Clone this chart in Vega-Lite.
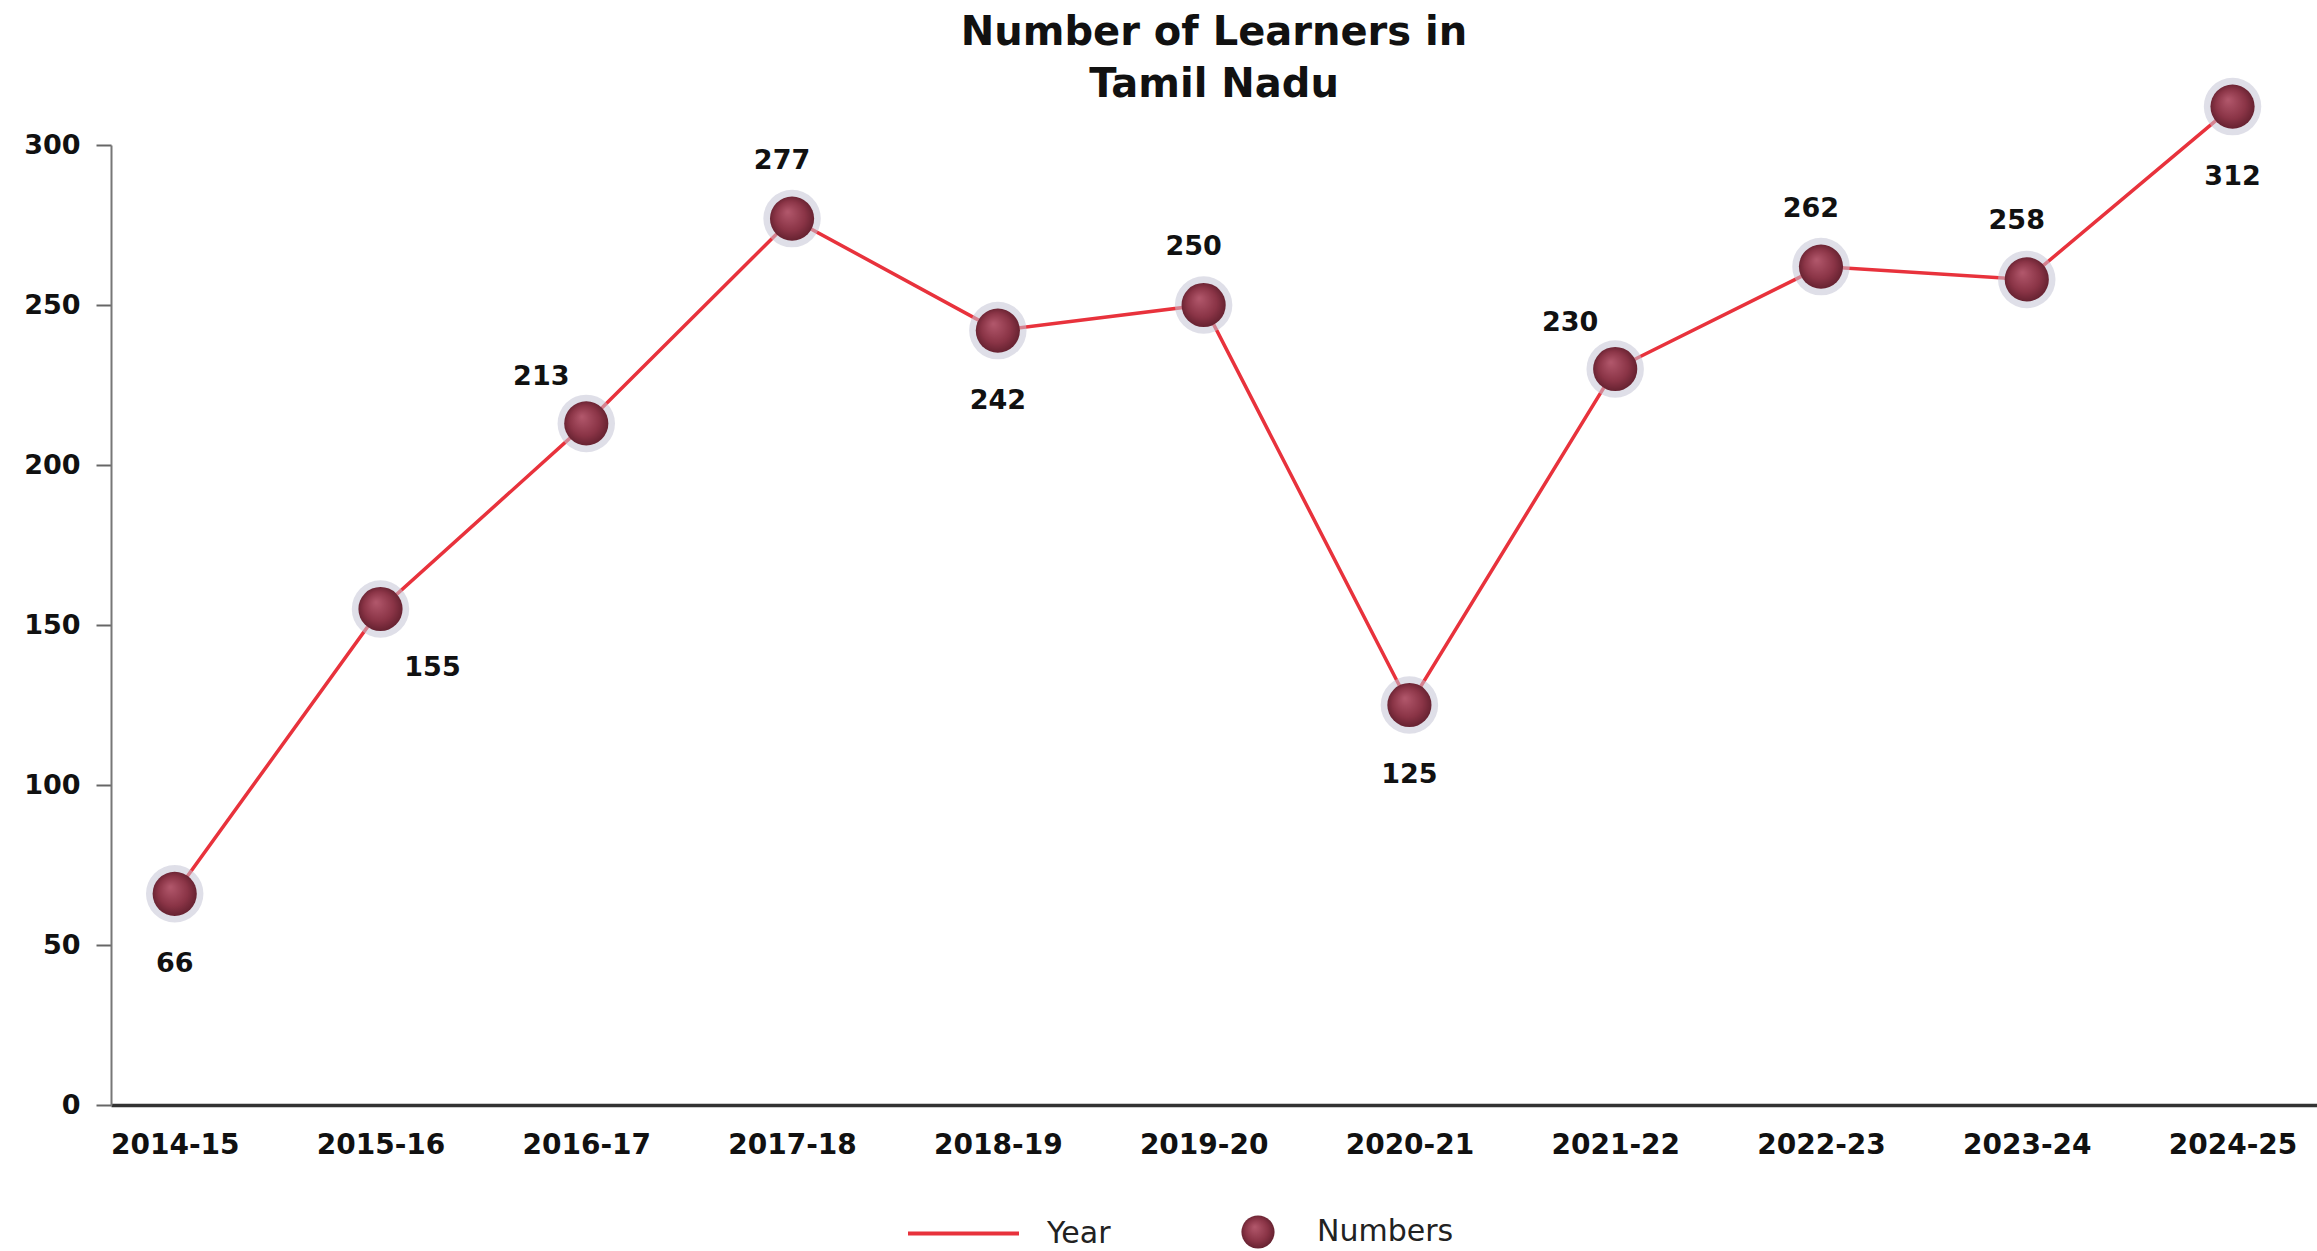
{
  "$schema": "https://vega.github.io/schema/vega-lite/v6.json",
  "width": 2206,
  "height": 960,
  "autosize": {"type": "none"},
  "padding": {"left": 111, "top": 145, "right": 0, "bottom": 146},
  "background": "white",
  "config": {"view": {"stroke": null}, "font": "DejaVu Sans"},
  "title": {
    "text": ["Number of Learners in", "Tamil Nadu"],
    "font": "DejaVu Sans",
    "fontSize": 40,
    "fontWeight": "bold",
    "color": "#111111",
    "lineHeight": 52,
    "anchor": "middle",
    "frame": "group",
    "offset": -27
  },
  "data": {
    "values": [
      {"year": "2014-15", "learners": 66},
      {"year": "2015-16", "learners": 155},
      {"year": "2016-17", "learners": 213},
      {"year": "2017-18", "learners": 277},
      {"year": "2018-19", "learners": 242},
      {"year": "2019-20", "learners": 250},
      {"year": "2020-21", "learners": 125},
      {"year": "2021-22", "learners": 230},
      {"year": "2022-23", "learners": 262},
      {"year": "2023-24", "learners": 258},
      {"year": "2024-25", "learners": 312}
    ]
  },
  "encoding": {
    "x": {
      "field": "year",
      "type": "ordinal",
      "sort": null,
      "scale": {"type": "point", "padding": 0.36, "align": 0.43},
      "axis": {
        "title": null,
        "labelAngle": 0,
        "labelFont": "DejaVu Sans",
        "labelFontWeight": "bold",
        "labelFontSize": 28,
        "labelColor": "#111111",
        "labelPadding": 26,
        "ticks": false,
        "tickSize": 0,
        "domainColor": "#333333",
        "domainWidth": 3.5,
        "grid": false
      }
    },
    "y": {
      "field": "learners",
      "type": "quantitative",
      "scale": {"domain": [0, 300], "nice": false},
      "axis": {
        "title": null,
        "values": [0, 50, 100, 150, 200, 250, 300],
        "labelFont": "DejaVu Sans",
        "labelFontWeight": "bold",
        "labelFontSize": 27,
        "labelColor": "#111111",
        "labelPadding": 16,
        "tickSize": 15,
        "tickColor": "#666666",
        "tickWidth": 2,
        "domainColor": "#777777",
        "domainWidth": 2,
        "grid": false
      }
    }
  },
  "layer": [
    {
      "mark": {"type": "line", "strokeWidth": 3.5},
      "encoding": {
        "color": {
          "datum": "Year",
          "scale": {"domain": ["Year"], "range": ["#e8323c"]},
          "legend": {
            "orient": "none",
            "legendX": 795,
            "legendY": 1031,
            "title": null,
            "symbolType": "stroke",
            "symbolSize": 12321,
            "symbolStrokeWidth": 4,
            "labelFont": "DejaVu Sans",
            "labelFontSize": 30,
            "labelColor": "#222222",
            "labelOffset": 26
          }
        }
      }
    },
    {
      "mark": {"type": "circle", "size": 3300, "color": "#c4c4d6", "opacity": 0.55},
      "encoding": {}
    },
    {
      "mark": {
        "type": "point",
        "filled": true,
        "size": 1950,
        "opacity": 1,
        "fill": {
          "gradient": "radial",
          "x1": 0.4, "y1": 0.35, "r1": 0.02,
          "x2": 0.5, "y2": 0.5, "r2": 0.55,
          "stops": [
            {"offset": 0, "color": "#b0566a"},
            {"offset": 0.6, "color": "#8a3446"},
            {"offset": 1, "color": "#5e1e2c"}
          ]
        }
      },
      "encoding": {
        "shape": {
          "datum": "Numbers",
          "scale": {"domain": ["Numbers"], "range": ["circle"]},
          "legend": {
            "orient": "none",
            "legendX": 1128,
            "legendY": 1068,
            "title": null,
            "symbolSize": 1100,
            "symbolFillColor": "#8a3446",
            "symbolStrokeColor": "#c8c8d8",
            "symbolStrokeWidth": 4,
            "labelFont": "DejaVu Sans",
            "labelFontSize": 30,
            "labelColor": "#222222",
            "labelOffset": 40
          }
        }
      }
    },
    {
      "transform": [{"filter": {"field": "year", "oneOf": ["2014-15", "2018-19", "2020-21", "2024-25"]}}],
      "mark": {"type": "text", "font": "DejaVu Sans", "fontWeight": "bold", "fontSize": 27, "color": "#111111", "dy": 70},
      "encoding": {"text": {"field": "learners", "type": "quantitative"}}
    },
    {
      "transform": [{"filter": {"field": "year", "oneOf": ["2015-16"]}}],
      "mark": {"type": "text", "font": "DejaVu Sans", "fontWeight": "bold", "fontSize": 27, "color": "#111111", "dx": 52, "dy": 59},
      "encoding": {"text": {"field": "learners", "type": "quantitative"}}
    },
    {
      "transform": [{"filter": {"field": "year", "oneOf": ["2017-18", "2019-20", "2022-23", "2023-24"]}}],
      "mark": {"type": "text", "font": "DejaVu Sans", "fontWeight": "bold", "fontSize": 27, "color": "#111111", "dx": -10, "dy": -58},
      "encoding": {"text": {"field": "learners", "type": "quantitative"}}
    },
    {
      "transform": [{"filter": {"field": "year", "oneOf": ["2016-17", "2021-22"]}}],
      "mark": {"type": "text", "font": "DejaVu Sans", "fontWeight": "bold", "fontSize": 27, "color": "#111111", "dx": -45, "dy": -46},
      "encoding": {"text": {"field": "learners", "type": "quantitative"}}
    }
  ]
}
